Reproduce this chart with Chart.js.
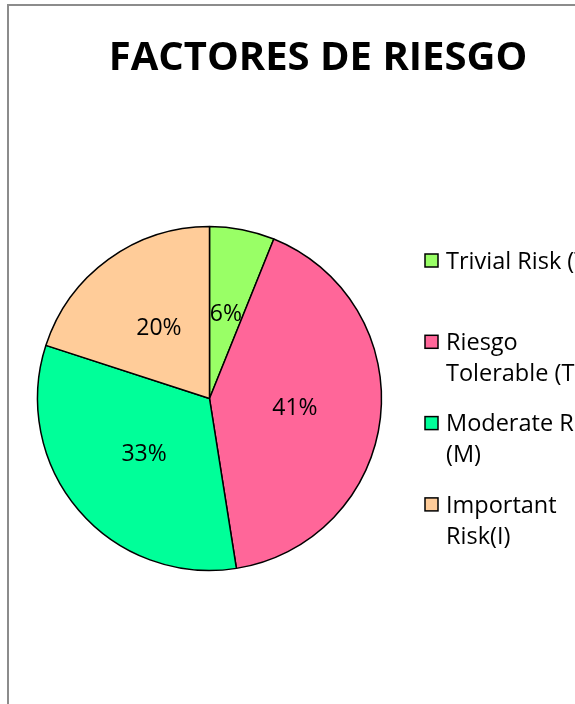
<!DOCTYPE html>
<html>
<head>
<meta charset="utf-8">
<script src="https://cdn.jsdelivr.net/npm/chart.js@4/dist/chart.umd.min.js"></script>
<style>
  html, body { margin: 0; padding: 0; background: #fff; overflow: hidden; }
  #wrap { position: relative; width: 575px; height: 704px; }
  #frame { position: absolute; left: 7px; top: 4px; width: 800px; height: 900px;
           border: 2px solid #8c8c8c; box-sizing: border-box; }
  #c { position: absolute; left: 0; top: 0; }
</style>
</head>
<body>
<div id="wrap">
  <div id="frame"></div>
  <canvas id="c" width="575" height="704"></canvas>
</div>
<script>
const titleText = 'FACTORES DE RIESGO';
const categories = [
  ['Trivial Risk (T)'],
  ['Riesgo', 'Tolerable (T)'],
  ['Moderate Risk', '(M)'],
  ['Important', 'Risk(I)']
];
const values = [6.1, 41.4, 32.5, 20.0];
const colors = ['#99FF66', '#FF6699', '#00FF99', '#FFCC99'];

const FONT = "'Open Sans', 'Liberation Sans', sans-serif";

const chartTitle = {
  id: 'chartTitle',
  afterDraw(chart) {
    const ctx = chart.ctx;
    ctx.save();
    ctx.font = 'bold 40px ' + FONT;
    ctx.fillStyle = '#000';
    ctx.textAlign = 'center';
    ctx.textBaseline = 'alphabetic';
    ctx.fillText(titleText, 318, 70);
    ctx.restore();
  }
};

const pctLabels = {
  id: 'pctLabels',
  afterDatasetsDraw(chart) {
    const ctx = chart.ctx;
    const meta = chart.getDatasetMeta(0);
    const data = chart.data.datasets[0].data;
    const total = data.reduce((a, b) => a + b, 0);
    ctx.save();
    ctx.font = '23px ' + FONT;
    ctx.fillStyle = '#000';
    ctx.textAlign = 'center';
    ctx.textBaseline = 'middle';
    meta.data.forEach((arc, i) => {
      const p = arc.tooltipPosition();
      ctx.fillText(Math.round(data[i] / total * 100) + '%', p.x, p.y);
    });
    ctx.restore();
  }
};

const sideLegend = {
  id: 'sideLegend',
  afterDraw(chart) {
    const ctx = chart.ctx;
    const labels = chart.data.labels;
    const bg = chart.data.datasets[0].backgroundColor;
    const boxX = 425, textX = 446, startY = 261, step = 81.3, lineH = 31;
    ctx.save();
    ctx.font = '23.5px ' + FONT;
    ctx.textBaseline = 'middle';
    ctx.textAlign = 'left';
    labels.forEach((lab, i) => {
      const y = startY + i * step;
      ctx.fillStyle = bg[i];
      ctx.fillRect(boxX, y - 7, 13, 13);
      ctx.lineWidth = 1.5;
      ctx.strokeStyle = '#000';
      ctx.strokeRect(boxX, y - 7, 13, 13);
      ctx.fillStyle = '#000';
      const lines = Array.isArray(lab) ? lab : [lab];
      lines.forEach((t, j) => ctx.fillText(t, textX, y + 1 + j * lineH));
    });
    ctx.restore();
  }
};

new Chart(document.getElementById('c'), {
  type: 'pie',
  data: {
    labels: categories,
    datasets: [{
      data: values,
      backgroundColor: colors,
      borderColor: '#000',
      borderWidth: 1.5
    }]
  },
  options: {
    responsive: false,
    animation: false,
    radius: 172,
    layout: { padding: { left: 30, right: 186, top: 99, bottom: 6 } },
    plugins: {
      legend: { display: false },
      tooltip: { enabled: false },
      title: { display: false }
    }
  },
  plugins: [pctLabels, sideLegend, chartTitle]
});
</script>
</body>
</html>
